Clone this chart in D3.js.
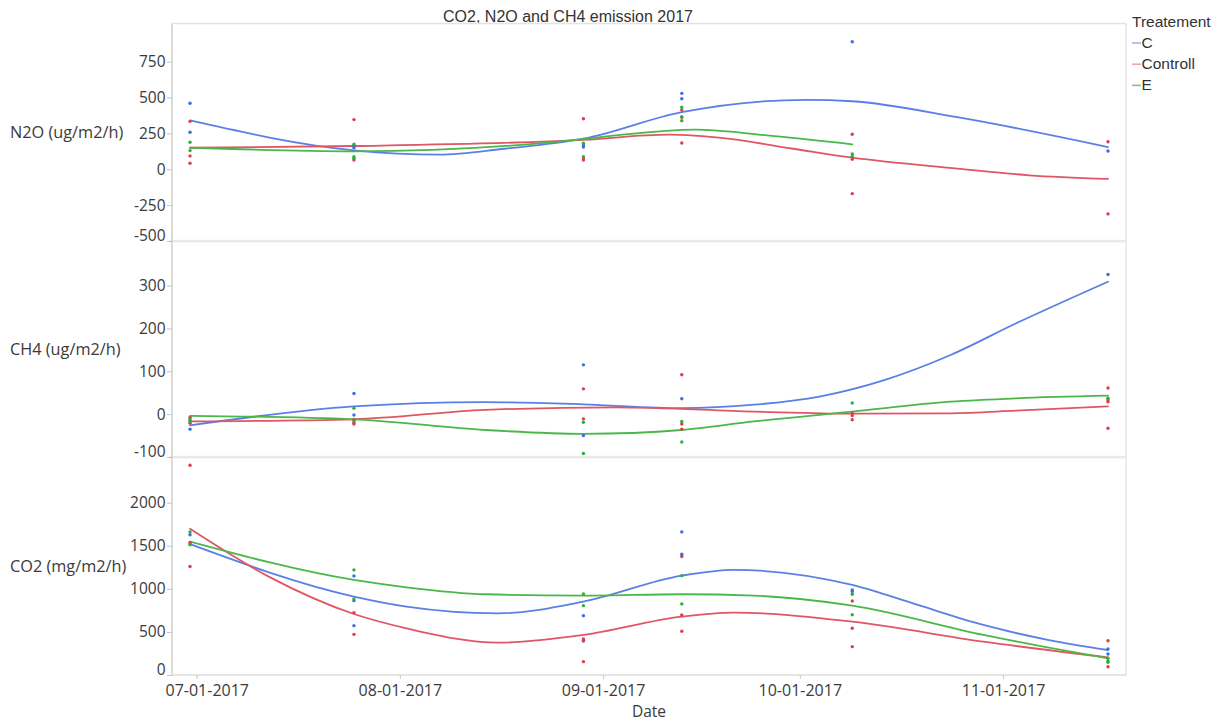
<!DOCTYPE html>
<html>
<head>
<meta charset="utf-8">
<script src="https://cdn.jsdelivr.net/npm/d3@7"></script>
<style>
  body { margin: 0; background: #fff; }
  svg { display: block; }
</style>
</head>
<body>
<svg id="chart" width="1220" height="722"></svg>
<script>
// ---- Sampling dates and treatments ----
const sampleDates = ["2017-06-30", "2017-07-25", "2017-08-29", "2017-09-13", "2017-10-09", "2017-11-17"];
const treatments = ["C", "Controll", "E"];
const monthTicks = ["2017-07-01", "2017-08-01", "2017-09-01", "2017-10-01", "2017-11-01"];

// ---- N2O (ug/m2/h): replicate measurements per sampling date ----
const n2oC        = [[460, 258], [162, 150], [169, 155], [529, 492], [889], [127]];
const n2oControll = [[334, 93, 42], [346, 65], [352, 81, 65], [413, 362, 183], [244, 70, -170], [192, -311]];
const n2oE        = [[188, 130], [174, 88, 77], [181, 88], [432, 366, 338], [107, 90], []];
const n2oTicks    = [-500, -250, 0, 250, 500, 750];

// ---- CH4 (ug/m2/h) ----
const ch4C        = [[-35], [48, -2], [115, -50], [36], [], [326]];
const ch4Controll = [[-8, -15, -21], [-13, -20, -23], [59, -11], [92, -23, -35], [2, -3, -13], [61, 33, 29, -33]];
const ch4E        = [[-11, -17], [14, -16], [-19, -92], [-17, -65], [26], [37]];
const ch4Ticks    = [-100, 0, 100, 200, 300];

// ---- CO2 (mg/m2/h) ----
const co2C        = [[1628, 1520], [1150, 863, 573], [689, 395], [1661, 1402], [987, 968], [302, 244]];
const co2Controll = [[2434, 1538, 1259], [724, 472], [418, 400, 155], [1375, 697, 507], [859, 542, 329], [398, 96]];
const co2E        = [[1659, 1512], [1220, 883], [941, 805], [1153, 825], [937, 700], [194, 166, 148]];
const co2Ticks    = [0, 500, 1000, 1500, 2000];

// ---- Smoothing-spline fits, sampled along the season ----
const n2oFitC = [["2017-06-30", 340], ["2017-07-25", 132], ["2017-08-07", 102], ["2017-08-17", 143],
  ["2017-08-29", 213], ["2017-09-13", 398], ["2017-10-02", 484], ["2017-10-09", 474],
  ["2017-10-25", 363], ["2017-11-17", 155]];
const n2oFitControll = [["2017-06-30", 150], ["2017-07-25", 162], ["2017-08-29", 205],
  ["2017-09-11", 241], ["2017-09-20", 213], ["2017-09-30", 143], ["2017-10-09", 81],
  ["2017-10-25", 5], ["2017-11-05", -42], ["2017-11-17", -67]];
const n2oFitE = [["2017-06-30", 150], ["2017-07-25", 125], ["2017-08-29", 210], ["2017-09-03", 236],
  ["2017-09-15", 276], ["2017-09-26", 236], ["2017-10-09", 174]];

const ch4FitC = [["2017-06-30", -26], ["2017-07-25", 18], ["2017-08-14", 28], ["2017-08-29", 23],
  ["2017-09-13", 14], ["2017-09-24", 22], ["2017-10-04", 41], ["2017-10-14", 80],
  ["2017-10-24", 138], ["2017-11-03", 212], ["2017-11-17", 309]];
const ch4FitControll = [["2017-06-30", -17], ["2017-07-25", -12], ["2017-08-14", 10],
  ["2017-09-03", 16], ["2017-09-24", 6], ["2017-10-09", 1],
  ["2017-10-24", 2], ["2017-11-03", 8], ["2017-11-17", 18]];
const ch4FitE = [["2017-06-30", -4], ["2017-07-25", -12], ["2017-08-14", -37],
  ["2017-08-29", -46], ["2017-09-13", -37], ["2017-09-24", -17], ["2017-10-09", 6],
  ["2017-10-24", 29], ["2017-11-03", 37], ["2017-11-17", 43]];

const co2FitC = [["2017-06-30", 1518], ["2017-07-25", 910], ["2017-08-02", 794],
  ["2017-08-16", 716], ["2017-08-29", 852], ["2017-09-13", 1153],
  ["2017-09-21", 1220], ["2017-10-09", 1045], ["2017-10-19", 813], ["2017-10-29", 581],
  ["2017-11-08", 406], ["2017-11-17", 290]];
const co2FitControll = [["2017-06-30", 1696], ["2017-07-12", 1142], ["2017-07-25", 708],
  ["2017-08-02", 542], ["2017-08-16", 375], ["2017-08-29", 465], ["2017-09-13", 677],
  ["2017-09-21", 724], ["2017-10-09", 619], ["2017-10-29", 387],
  ["2017-11-17", 205]];
const co2FitE = [["2017-06-30", 1548], ["2017-07-25", 1103], ["2017-08-02", 1018],
  ["2017-08-14", 937], ["2017-08-29", 921], ["2017-09-13", 937], ["2017-09-24", 921], ["2017-10-09", 805],
  ["2017-10-29", 465], ["2017-11-17", 194]];

// ---- Styling ----
const dotColor   = { C: "#3b6de3", Controll: "#de3d4b", E: "#2fae3a" };
const lineColor  = { C: "#5a7fe6", Controll: "#e05664", E: "#49b849" };
const legendLine = { C: "#9fb4ee", Controll: "#eea7ae", E: "#7ccc7c" };
const axisFont = "'Segoe UI', 'Open Sans', 'Noto Sans', sans-serif";
const textFont = "Arial, 'Liberation Sans', sans-serif";
const inkColor = "#3a3a3a";

const parse = d3.timeParse("%Y-%m-%d");
const svg = d3.select("#chart");

const plot = { left: 172, right: 1126, top: 23.5, bottom: 675 };
const july1 = parse("2017-07-01");
const x = d3.scaleTime()
  .domain([d3.timeHour.offset(july1, -90), d3.timeHour.offset(july1, 3402)])
  .range([plot.left, plot.right]);

const panels = [
  { label: "N2O (ug/m2/h)", domain: [-500, 1016], y0: plot.top, y1: 241, ticks: n2oTicks,
    obs: { C: n2oC, Controll: n2oControll, E: n2oE },
    fit: { C: n2oFitC, Controll: n2oFitControll, E: n2oFitE } },
  { label: "CH4 (ug/m2/h)", domain: [-100, 404], y0: 241, y1: 457, ticks: ch4Ticks,
    obs: { C: ch4C, Controll: ch4Controll, E: ch4E },
    fit: { C: ch4FitC, Controll: ch4FitControll, E: ch4FitE } },
  { label: "CO2 (mg/m2/h)", domain: [0, 2530], y0: 457, y1: plot.bottom, ticks: co2Ticks,
    obs: { C: co2C, Controll: co2Controll, E: co2E },
    fit: { C: co2FitC, Controll: co2FitControll, E: co2FitE } }
];

// Title
svg.append("text")
  .attr("x", 568).attr("y", 22)
  .attr("text-anchor", "middle")
  .style("font-family", textFont).style("font-size", "16px").style("fill", "#333")
  .text("CO2, N2O and CH4 emission 2017");

// Outer frame
svg.append("line").attr("x1", plot.left).attr("x2", plot.right).attr("y1", plot.top).attr("y2", plot.top)
  .attr("stroke", "#e3e3e3").attr("stroke-width", 1.5);
svg.append("line").attr("x1", plot.right).attr("x2", plot.right).attr("y1", plot.top).attr("y2", plot.bottom)
  .attr("stroke", "#e6e6e6").attr("stroke-width", 1.5);

const line = d3.line().curve(d3.curveMonotoneX);

panels.forEach((p, i) => {
  const y = d3.scaleLinear().domain(p.domain).range([p.y1, p.y0]);
  const g = svg.append("g");

  // Separator band below the panel (except the last)
  if (i < panels.length - 1) {
    g.append("rect").attr("x", plot.left - 2).attr("y", p.y1 - 1.2)
      .attr("width", plot.right - plot.left + 2).attr("height", 2.6).attr("fill", "#e9e9e9");
  }

  // Y axis
  const axis = d3.axisLeft(y).tickValues(p.ticks).tickSize(5).tickPadding(1.5).tickFormat(d => String(d));
  const ag = svg.append("g").attr("transform", `translate(${plot.left},0)`).call(axis);
  ag.select(".domain").attr("stroke", "#cfcfcf").attr("stroke-width", 1.5)
    .attr("d", `M0,${p.y0}V${p.y1}`);
  ag.selectAll(".tick line").attr("stroke", "#c4c4c4");
  ag.selectAll(".tick text")
    .style("font-family", axisFont).style("font-size", "15.5px").style("fill", inkColor)
    .attr("dy", d => d === p.domain[0] ? "-0.05em" : "0.32em");

  // Panel title
  svg.append("text")
    .attr("x", 10).attr("y", (p.y0 + p.y1) / 2).attr("dy", "0.35em")
    .style("font-family", axisFont).style("font-size", "16.3px").style("fill", inkColor)
    .text(p.label);

  // Fitted curves
  treatments.forEach(t => {
    const pts = p.fit[t].map(([d, v]) => [x(parse(d)), y(v)]);
    g.append("path").attr("d", line(pts))
      .attr("fill", "none").attr("stroke", lineColor[t]).attr("stroke-width", 1.8)
      .attr("stroke-linejoin", "round").attr("stroke-linecap", "round");
  });

  // Observations
  treatments.forEach(t => {
    const flat = [];
    p.obs[t].forEach((vals, k) => vals.forEach(v => flat.push({ date: parse(sampleDates[k]), v })));
    g.selectAll(null).data(flat).enter().append("circle")
      .attr("cx", d => x(d.date)).attr("cy", d => y(d.v)).attr("r", 1.7)
      .attr("fill", dotColor[t]);
  });
});

// X axis
const xAxis = d3.axisBottom(x).tickValues(monthTicks.map(parse)).tickSize(4).tickPadding(6)
  .tickFormat(d3.timeFormat("%m-%d-%Y"));
const xg = svg.append("g").attr("transform", `translate(0,${plot.bottom})`).call(xAxis);
xg.select(".domain").attr("stroke", "#dcdcdc").attr("stroke-width", 1.5)
  .attr("d", `M${plot.left},0H${plot.right}`);
xg.selectAll(".tick line").attr("stroke", "#c8c8c8");
xg.selectAll(".tick text")
  .style("font-family", axisFont).style("font-size", "16px").style("fill", inkColor);
// First label is nudged inside so it starts just left of the axis
xg.selectAll(".tick text").filter((d, i) => i === 0)
  .attr("text-anchor", "start").attr("x", plot.left - 7 - x(parse(monthTicks[0])));

svg.append("text")
  .attr("x", (plot.left + plot.right) / 2).attr("y", 716.5)
  .attr("text-anchor", "middle")
  .style("font-family", axisFont).style("font-size", "15.5px").style("fill", inkColor)
  .text("Date");

// Legend
const lg = svg.append("g").attr("transform", "translate(1132,0)");
lg.append("text").attr("x", 0).attr("y", 27)
  .style("font-family", textFont).style("font-size", "15.5px").style("fill", "#333")
  .text("Treatement");
treatments.forEach((t, i) => {
  const cy = 43 + i * 21.2;
  lg.append("line").attr("x1", 0).attr("x2", 9).attr("y1", cy).attr("y2", cy)
    .attr("stroke", legendLine[t]).attr("stroke-width", 1.6);
  lg.append("text").attr("x", 9.5).attr("y", cy + 5)
    .style("font-family", textFont).style("font-size", "15.5px").style("fill", "#333")
    .text(t);
});
</script>
</body>
</html>
